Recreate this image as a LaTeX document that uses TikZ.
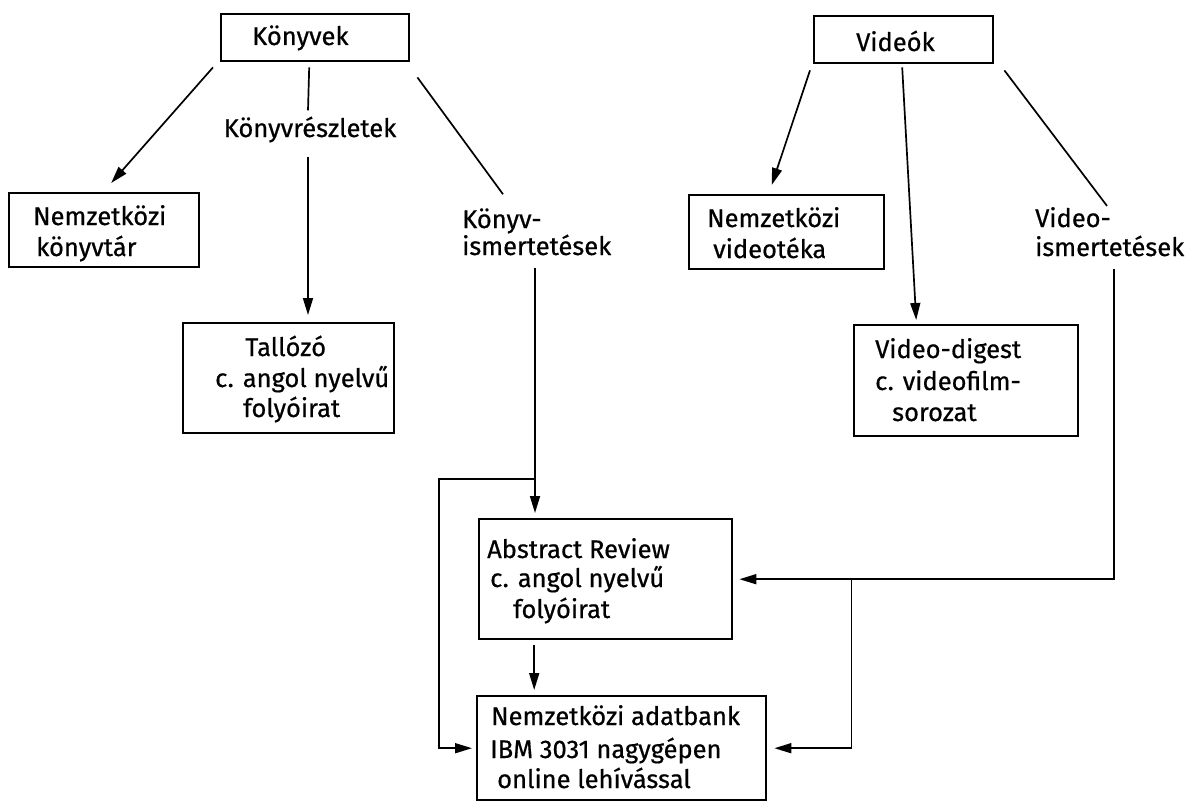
\documentclass[tikz,border=0pt]{standalone}
\usepackage{fontspec}
\setmainfont[FakeBold=0.6]{Fira Sans}
\usetikzlibrary{arrows.meta,calc}
\begin{document}
\begin{tikzpicture}[x=1pt,y=-1pt,
  box/.style={draw,line width=2.4pt,anchor=north west,inner sep=0pt},
  txt/.style={anchor=base west,inner sep=0pt,font=\fontsize{25.5}{30}\selectfont},
  ln/.style={line width=1.7pt},
  arr/.style={ln,-{Triangle[length=17pt,width=10pt]}}]
\useasboundingbox (0,0) rectangle (1187,803);
% boxes
\node[box,minimum width=188pt,minimum height=47pt] (kv) at (220,13) {};
\node[txt] (kvt) at (252,45) {Könyvek};
\node[box,minimum width=179pt,minimum height=47pt] (vd) at (813,15) {};
\node[txt] (vdt) at (856,51) {Videók};
\node[box,minimum width=190pt,minimum height=74pt] (ntk) at (8,192) {};
\node[txt] (ntk1) at (33,225) {Nemzetközi};
\node[txt] (ntk2) at (36,256) {könyvtár};
\node[box,minimum width=211pt,minimum height=110pt] (tal) at (182,322) {};
\node[txt] (tal1) at (245,356) {Tallózó};
\node[txt] (tal2) at (215,387) {c. angol nyelvű};
\node[txt] (tal3) at (243,417) {folyóirat};
\node[box,minimum width=195pt,minimum height=74pt] (ntv) at (688,194) {};
\node[txt] (ntv1) at (707,227) {Nemzetközi};
\node[txt] (ntv2) at (713,258) {videotéka};
\node[box,minimum width=224pt,minimum height=111pt] (vdig) at (853,324) {};
\node[txt] (vdig1) at (875,358) {Video-digest};
\node[txt] (vdig2) at (875,390) {c. videofilm-};
\node[txt] (vdig3) at (892,421) {sorozat};
\node[box,minimum width=253pt,minimum height=120pt] (abs) at (478,518) {};
\node[txt] (abs1) at (487,558) {Abstract Review};
\node[txt] (abs2) at (490,587) {c. angol nyelvű};
\node[txt] (abs3) at (513,618) {folyóirat};
\node[box,minimum width=289pt,minimum height=104pt] (bank) at (476,695) {};
\node[txt] (bank1) at (491,725) {Nemzetközi adatbank};
\node[txt] (bank2) at (490,758) {IBM 3031 nagygépen};
\node[txt] (bank3) at (497,788) {online lehívással};
% labels
\node[txt,anchor=base] (kr) at (310,137) {Könyvrészletek};
\node[txt] (ki1) at (462,228) {Könyv-};
\node[txt] (ki2) at (462,255) {ismertetések};
\node[txt] (vi1) at (1035,227) {Video-};
\node[txt] (vi2) at (1035,256) {ismertetések};
% connectors: Könyvek
\draw[arr] ($(kv.south west)+(-7,5)$) -- ($(ntk.north)+(7,-9)$);
\draw[ln] ($(kv.south)+(-6,5)$) -- ($(kr.north)+(-2,-6)$);
\draw[arr] ($(kr.south)+(-2,14)$) -- ($(kr.south |- tal.north)+(-2,-7)$);
\draw[ln] ($(kv.south east)+(7,15)$) -- ($(ki1.north west)+(41,-14)$);
\coordinate (kiv) at ($(ki2.south west)+(73,12)$);
\draw[arr] (kiv) -- ($(kiv |- abs.north)+(0,-5)$);
\coordinate (kib) at ($(kiv |- abs.north)+(0,-39)$);
\draw[arr] (kib) -- ++(-96,0) |- ($(bank.west)+(-4,0)$);
% connectors: Videók
\draw[arr] ($(vd.south west)+(-3,6)$) -- ($(ntv.north)+(-15,-9)$);
\draw[arr] ($(vd.south)+(-1.5,3)$) -- ($(vdig.north)+(-50,-4)$);
\draw[ln] ($(vd.south east)+(10,6)$) -- ($(vi1.north west)+(72,-1)$);
\coordinate (viv) at ($(vi2.south west)+(79,12)$);
\draw[arr] (viv) |- ($(abs.east)+(6,0)$);
\draw[arr] ($(abs.east)+(118,0)$) |- ($(bank.east)+(7,0)$);
% Abstract -> bank
\coordinate (ab) at ($(abs.south)+(-71.5,5)$);
\draw[arr] (ab) -- ($(ab |- bank.north)+(0,-5)$);
\end{tikzpicture}
\end{document}
